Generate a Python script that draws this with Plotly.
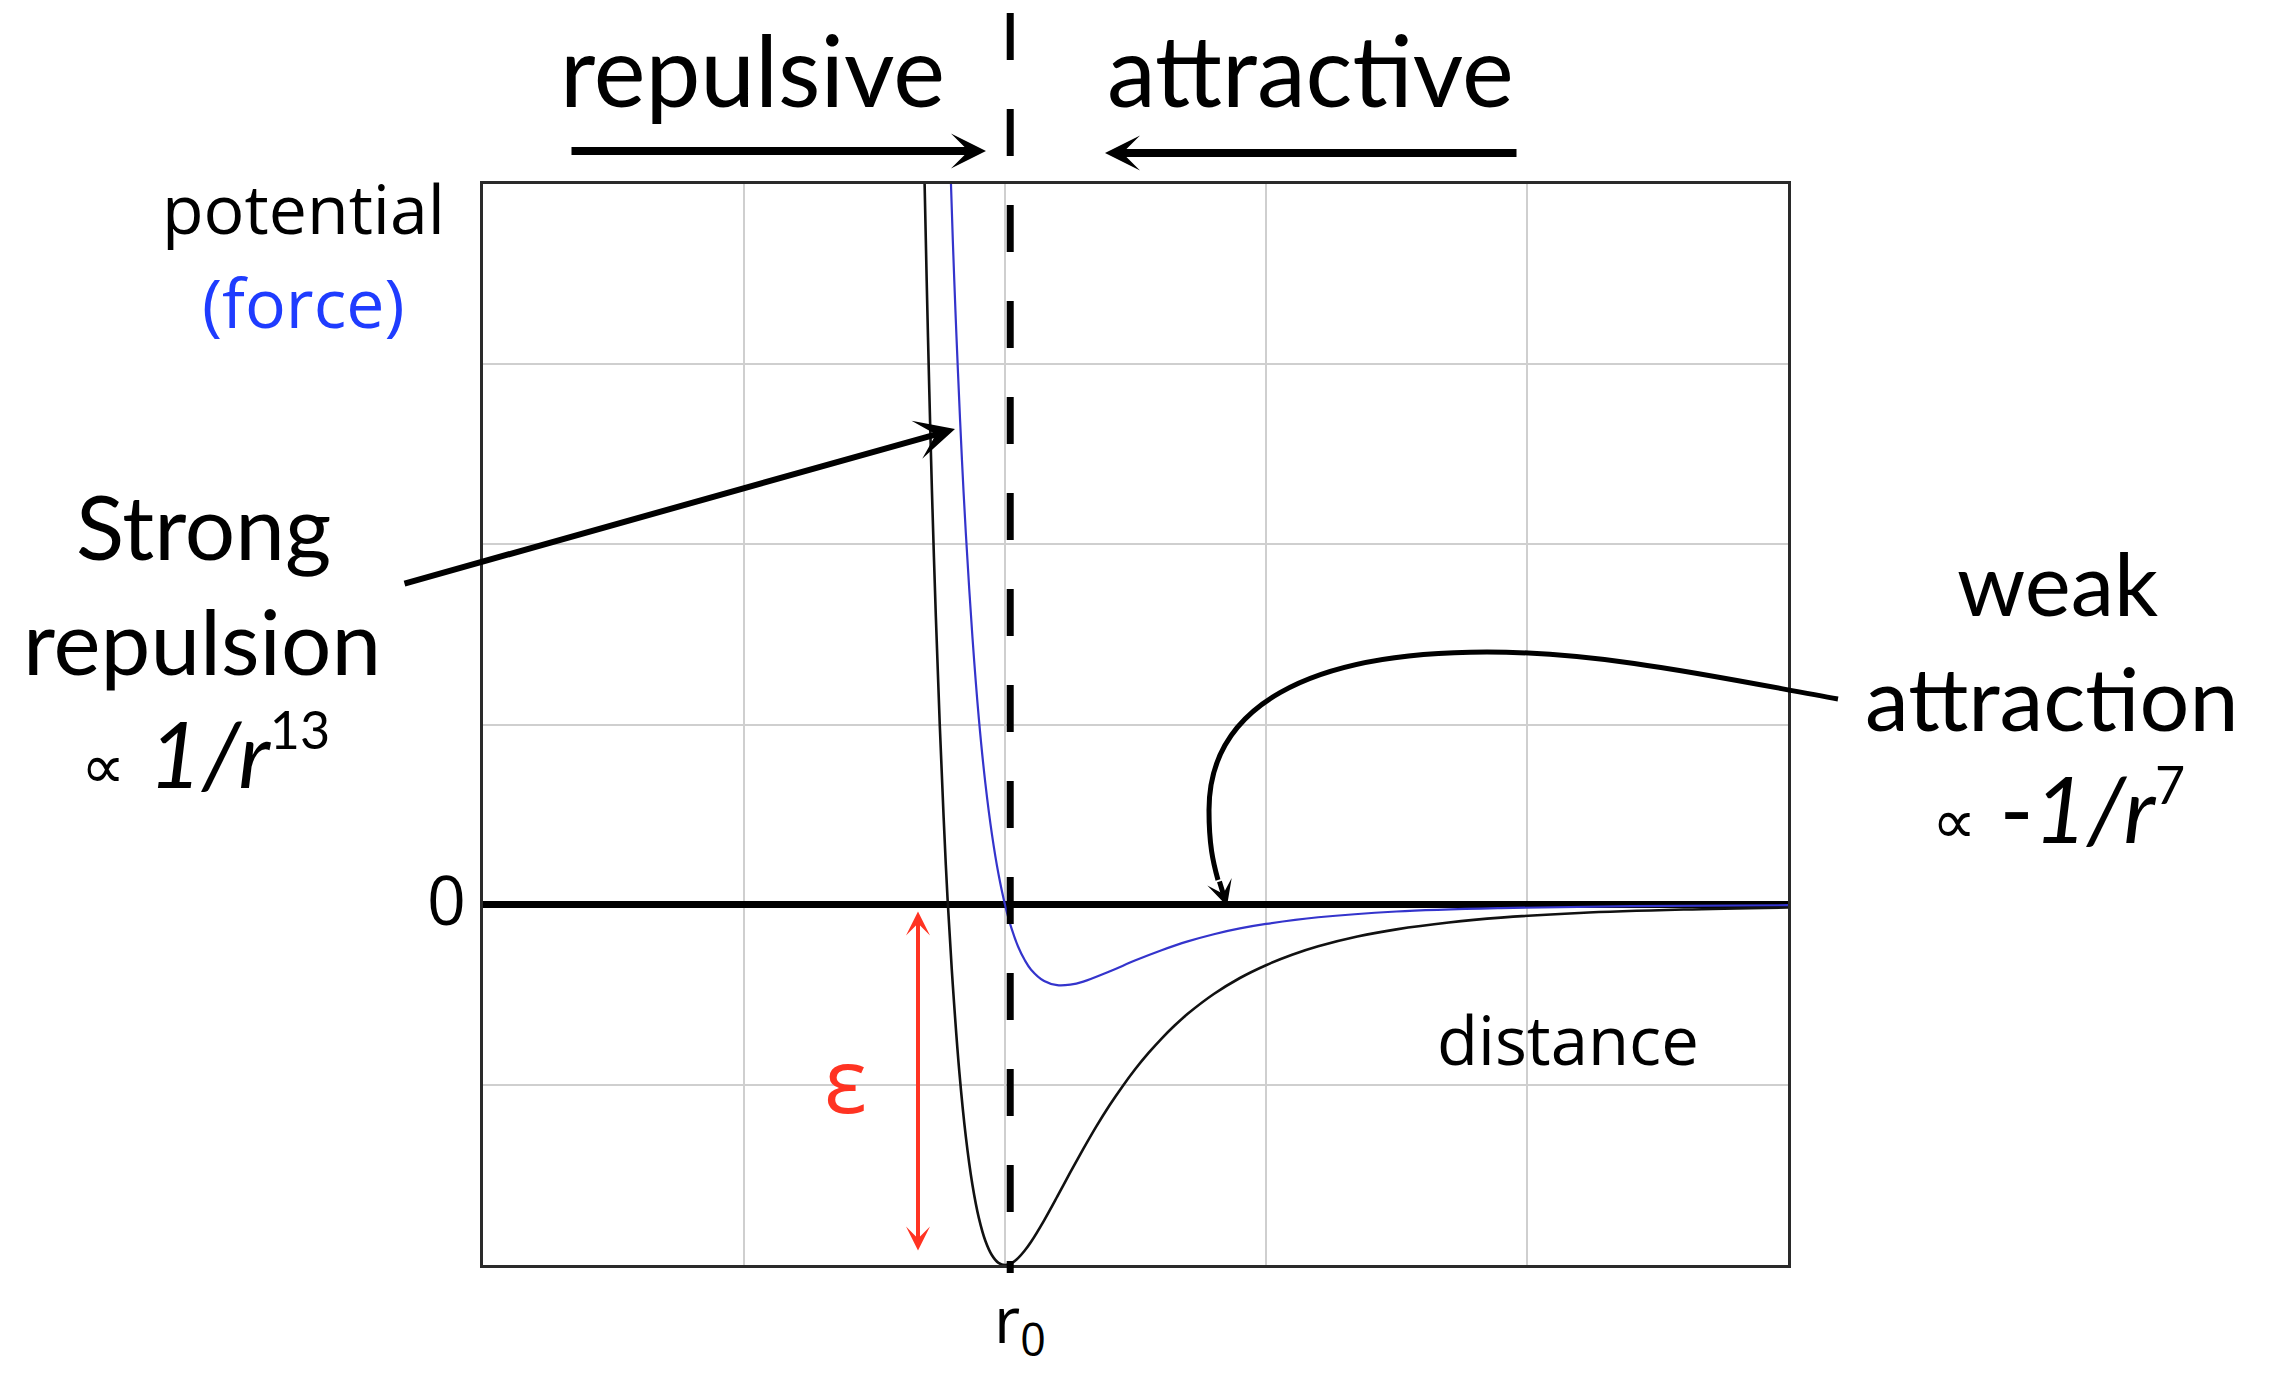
import plotly.graph_objects as go

# ---------------- data ----------------
pot_r = [1.692, 1.700, 1.710, 1.720, 1.735, 1.750, 1.765, 1.780, 1.800, 1.825, 1.850, 1.875,
         1.900, 1.925, 1.950, 1.975, 2.000, 2.025, 2.050, 2.075, 2.100, 2.150, 2.200, 2.250,
         2.300, 2.350, 2.400, 2.450, 2.500, 2.550, 2.600, 2.650, 2.700, 2.800, 2.900, 3.000,
         3.100, 3.200, 3.350, 3.500, 3.700, 3.900, 4.200, 4.600, 5.000]
pot_v = [4.0, 3.46, 2.85, 2.30, 1.60, 1.00, 0.48, 0.03, -0.445, -0.928, -1.289, -1.553,
         -1.740, -1.867, -1.946, -1.988, -2.0, -1.990, -1.962, -1.921, -1.871, -1.752, -1.621, -1.486,
         -1.356, -1.231, -1.115, -1.009, -0.911, -0.823, -0.743, -0.671, -0.606, -0.496, -0.407, -0.336,
         -0.278, -0.231, -0.177, -0.137, -0.099, -0.072, -0.046, -0.027, -0.016]

force_r = [1.793, 1.800, 1.810, 1.820, 1.835, 1.850, 1.875, 1.900, 1.925, 1.950, 1.975, 2.000,
           2.025, 2.050, 2.075, 2.100, 2.150, 2.200, 2.250, 2.300, 2.400, 2.500, 2.600, 2.700,
           2.800, 2.900, 3.000, 3.200, 3.500, 3.900, 4.400, 5.000]
force_v = [4.0, 3.69, 3.30, 2.95, 2.47, 2.06, 1.49, 1.03, 0.67, 0.39, 0.17, 0.0,
           -0.132, -0.232, -0.306, -0.361, -0.424, -0.447, -0.444, -0.427, -0.371, -0.309, -0.253, -0.204,
           -0.164, -0.132, -0.107, -0.070, -0.038, -0.019, -0.008, -0.003]

x_grid = [0, 1, 2, 3, 4, 5]
y_grid = [-2, -1, 0, 1, 2, 3, 4]
x_range = [0, 5]
y_range = [-2, 4]
r0_value = 2.02
eps_top, eps_bottom = -0.03, -1.92

# ---------------- layout geometry ----------------
W, H = 2274, 1373
L, R, T, B = 483, 1788, 184, 1265


def px(x):
    return (x - L) / (R - L)


def py(y):
    return (B - y) / (B - T)


def pt(x, y):
    return f"{px(x):.5f},{py(y):.5f}"


def dx(v):
    return (v - x_range[0]) / (x_range[1] - x_range[0])


def dy(v):
    return (v - y_range[0]) / (y_range[1] - y_range[0])


GILL = "Lato, 'Noto Sans', sans-serif"
COMIC = "'Open Sans', 'Noto Sans', sans-serif"
BLUE_TXT = "#1f3cff"
RED = "#ff3322"

fig = go.Figure()
fig.add_trace(go.Scatter(x=pot_r, y=pot_v, mode="lines",
                         line=dict(color="#111111", width=2.6, shape="spline", smoothing=1.0),
                         hoverinfo="skip", showlegend=False))
fig.add_trace(go.Scatter(x=force_r, y=force_v, mode="lines",
                         line=dict(color="#3434cc", width=2.2, shape="spline", smoothing=1.0),
                         hoverinfo="skip", showlegend=False))

fig.update_xaxes(range=x_range, tickvals=x_grid, showticklabels=False, ticks="",
                 showgrid=True, gridcolor="#cfcfcf", gridwidth=2,
                 showline=True, mirror=True, linecolor="#2a2a2a", linewidth=3, zeroline=False)
fig.update_yaxes(range=y_range, tickvals=y_grid, showticklabels=False, ticks="",
                 showgrid=True, gridcolor="#cfcfcf", gridwidth=2,
                 showline=True, mirror=True, linecolor="#2a2a2a", linewidth=3,
                 zeroline=True, zerolinecolor="#000000", zerolinewidth=7)

ann = []


def text(s, x, y, size, font=GILL, color="black"):
    ann.append(dict(text=s, x=px(x), y=py(y), xref="paper", yref="paper",
                    xanchor="center", yanchor="middle", showarrow=False,
                    font=dict(family=font, size=size, color=color)))


text("repulsive", 752, 69, 98)
text("attractive", 1310, 69, 98)
text("potential", 303, 207, 68, COMIC)
text("(force)", 303, 301, 68, COMIC, BLUE_TXT)
text("0", 446, 898, 68, COMIC)
text("distance", 1568, 1039, 67, COMIC)
text("ε", 845, 1078, 90, COMIC, RED)
text("r<sub>0</sub>", 1020, 1322, 64, COMIC)
text("Strong", 203, 525, 89)
text("repulsion", 202, 640, 89)
text("<span style='font-size:62px'>∝</span>\u00a0<i>1/r</i><sup><span style='font-size:52px'>13</span></sup>",
     205, 752, 92)
text("weak", 2057, 582, 87)
text("attraction", 2052, 697, 88)
text("<span style='font-size:62px'>∝</span>\u00a0-<i>1/r</i><sup><span style='font-size:52px'>7</span></sup>",
     2058, 807, 92)


def arrow(tipx, tipy, tailx, taily, width, size, color="black"):
    ann.append(dict(text="", x=px(tipx), y=py(tipy), xref="paper", yref="paper",
                    ax=tailx - tipx, ay=taily - tipy, axref="pixel", ayref="pixel",
                    showarrow=True, arrowhead=3, arrowwidth=width, arrowsize=size,
                    arrowcolor=color))


arrow(986, 151, 570, 151, 8, 0.73)
arrow(1105, 153, 1518, 153, 8, 0.73)
arrow(955, 429, 403, 584, 6, 1.1)
arrow(1227, 906, 1219, 880, 5, 0.85)

# red epsilon double arrow (data coordinates of the well depth)
eps_len_px = (dy(eps_top) - dy(eps_bottom)) * (B - T)
ann.append(dict(text="", x=px(918), y=dy(eps_bottom), xref="paper", yref="paper",
                ax=0, ay=-eps_len_px, axref="pixel", ayref="pixel",
                showarrow=True, arrowhead=3, startarrowhead=3, arrowside="end+start",
                arrowwidth=4, arrowsize=1, startarrowsize=1, arrowcolor=RED))

shapes = [
    # r0 dashed line, drawn top to bottom
    dict(type="line", xref="paper", yref="paper", x0=dx(r0_value), x1=dx(r0_value),
         y0=py(13), y1=py(1273), line=dict(color="black", width=7, dash="47px,49px"),
         layer="above"),
    # curved "weak attraction" arrow
    dict(type="path", xref="paper", yref="paper", layer="above",
         path=(f"M {pt(1838, 699)} C {pt(1721, 678)} {pt(1604, 652)} {pt(1487, 652)} "
               f"C {pt(1307, 652)} {pt(1209, 707)} {pt(1209, 810)} "
               f"C {pt(1209, 845)} {pt(1213, 862)} {pt(1218, 880)}"),
         line=dict(color="black", width=5)),
]

fig.update_layout(width=W, height=H, margin=dict(l=L, r=W - R, t=T, b=H - B, pad=0),
                  paper_bgcolor="white", plot_bgcolor="white",
                  annotations=ann, shapes=shapes, showlegend=False)

fig.write_html("out.html", config={"displayModeBar": False},
               post_script="document.body.style.margin='0';document.body.style.overflow='hidden';")
